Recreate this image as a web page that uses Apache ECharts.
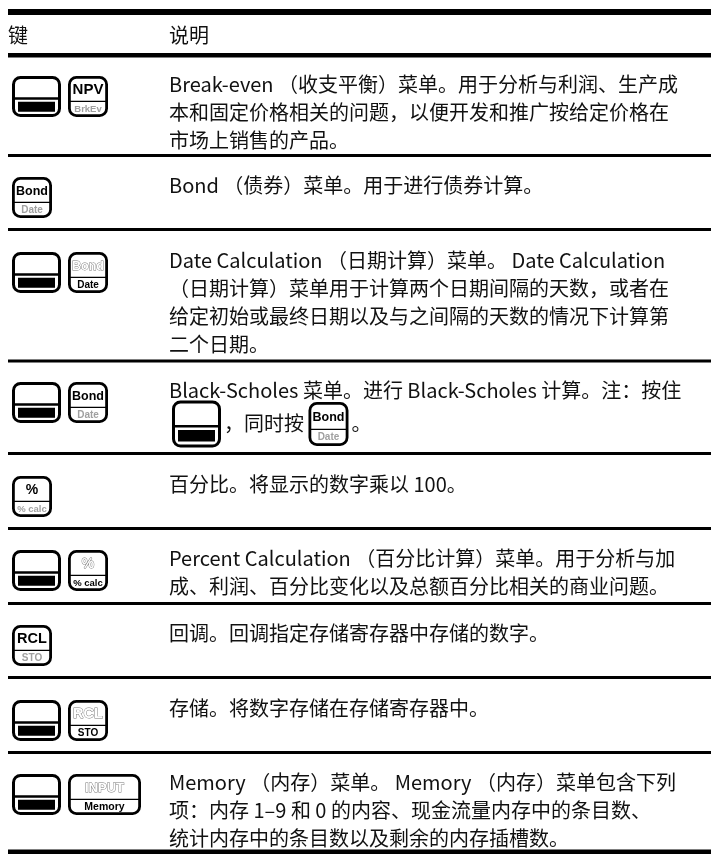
<!DOCTYPE html>
<html><head><meta charset="utf-8">
<script src="https://cdn.jsdelivr.net/npm/echarts@6/dist/echarts.min.js"></script>
<style>html,body{margin:0;padding:0;background:#fff}#c{width:711px;height:854px}</style>
</head><body><div id="c"></div>
<script>
// ---- data ----
const headers = ['键', '说明'];
// key specs: 'SHIFT' or 'top|bottom|activePart'
const rowKeys = [
  ['SHIFT', 'NPV|BrkEv|top'],
  ['Bond|Date|top'],
  ['SHIFT', 'Bond|Date|bottom'],
  ['SHIFT', 'Bond|Date|top'],
  ['%|% calc|top'],
  ['SHIFT', '%|% calc|bottom'],
  ['RCL|STO|top'],
  ['SHIFT', 'RCL|STO|bottom'],
  ['SHIFT', 'INPUT|Memory|bottom']
];
const rowText = [
  ['Break-even （收支平衡）菜单。用于分析与利润、生产成', '本和固定价格相关的问题，以便开发和推广按给定价格在', '市场上销售的产品。'],
  ['Bond （债券）菜单。用于进行债券计算。'],
  ['Date Calculation （日期计算）菜单。 Date Calculation', '（日期计算）菜单用于计算两个日期间隔的天数，或者在', '给定初始或最终日期以及与之间隔的天数的情况下计算第', '二个日期。'],
  ['Black-Scholes 菜单。进行 Black-Scholes 计算。注：按住', [{key: 'SHIFT'}, '，同时按 ', {key: 'Bond|Date|top'}, '。']],
  ['百分比。将显示的数字乘以 100。'],
  ['Percent Calculation （百分比计算）菜单。用于分析与加', '成、利润、百分比变化以及总额百分比相关的商业问题。'],
  ['回调。回调指定存储寄存器中存储的数字。'],
  ['存储。将数字存储在存储寄存器中。'],
  ['Memory （内存）菜单。 Memory （内存）菜单包含下列', '项：内存 1–9 和 0 的内容、现金流量内存中的条目数、', '统计内存中的条目数以及剩余的内存插槽数。']
];

// ---- layout ----
const FONT_FAMILY = '"Noto Sans CJK SC", "Noto Sans", sans-serif';
const FONT_SIZE = 20;
const KEY_FONT = '"Liberation Sans", Arial, sans-serif';
const TEXT_X = 169, KEY_X = 12, KEY2_X = 68, LEFT = 8, RIGHT = 711;
const rules = [[9, 6], [53, 4.5], [154, 3], [228, 3], [359.5, 3], [452, 3], [527, 3], [602, 3], [676, 3], [751, 3], [849.5, 5]];
const rowTops = [76, 177, 252, 382, 476, 550, 625, 700, 774];
const LINE_H = 28;

const measureCtx = document.createElement('canvas').getContext('2d');
measureCtx.font = FONT_SIZE + 'px ' + FONT_FAMILY;
function textW(s) { return measureCtx.measureText(s).width; }

const topSizes = {NPV: 15, Bond: 12.5, '%': 14, RCL: 14.5, INPUT: 13};
const botSizes = {BrkEv: 9.5, Date: 10, '% calc': 9.5, STO: 10, Memory: 10.5};

function keyEls(spec, x, y, w, h) {
  const els = [];
  if (spec === 'SHIFT') {
    els.push({type: 'rect', shape: {x: x + 1.5, y: y + 1.5, width: w - 3, height: h - 3, r: 7},
      style: {fill: '#fff', stroke: '#000', lineWidth: 3}});
    els.push({type: 'line', shape: {x1: x + 1.5, y1: y + h * 0.55, x2: x + w - 1.5, y2: y + h * 0.55},
      style: {stroke: '#000', lineWidth: 2.5}});
    els.push({type: 'rect', shape: {x: x + 6, y: y + h * 0.63, width: w - 12, height: h * 0.24},
      style: {fill: '#000'}});
    return els;
  }
  const [top, bottom, active] = spec.split('|');
  els.push({type: 'rect', shape: {x: x + 1.4, y: y + 1.4, width: w - 2.8, height: h - 2.8, r: 7},
    style: {fill: '#fff', stroke: '#000', lineWidth: 2.8}});
  els.push({type: 'line', shape: {x1: x + 2, y1: y + h * 0.62, x2: x + w - 2, y2: y + h * 0.62},
    style: {stroke: '#000', lineWidth: 1.3}});
  const topStyle = active === 'top'
    ? {fill: '#000'}
    : {fill: '#fff', stroke: '#777', lineWidth: 0.9};
  els.push({type: 'text', style: Object.assign({text: top, x: x + w / 2, y: y + h * 0.35,
    font: 'bold ' + (topSizes[top] || 13) + 'px ' + KEY_FONT, align: 'center', verticalAlign: 'middle'}, topStyle)});
  const botStyle = active === 'bottom' ? {fill: '#000'} : {fill: '#a0a0a0'};
  els.push({type: 'text', style: Object.assign({text: bottom, x: x + w / 2, y: y + h * 0.81,
    font: 'bold ' + (botSizes[bottom] || 9.5) + 'px ' + KEY_FONT, align: 'center', verticalAlign: 'middle'}, botStyle)});
  return els;
}

function textEl(s, x, y) {
  return {type: 'text', style: {text: s, x: x, y: y, font: FONT_SIZE + 'px ' + FONT_FAMILY,
    fill: '#111', align: 'left', verticalAlign: 'middle'}};
}

const elements = [];
rules.forEach(([y, h]) => {
  elements.push({type: 'rect', shape: {x: LEFT, y: y, width: RIGHT - LEFT, height: h}, style: {fill: '#000'}});
});
elements.push(textEl(headers[0], LEFT, 35));
elements.push(textEl(headers[1], TEXT_X, 35));

rowKeys.forEach((keys, i) => {
  const top = rowTops[i];
  keys.forEach((k, j) => {
    const x = j === 0 ? KEY_X : KEY2_X;
    const w = k === 'SHIFT' ? 49 : (k.startsWith('INPUT') ? 73 : 40);
    keyEls(k, x, top, w, 41).forEach(e => elements.push(e));
  });
  let ly = top + 8;
  rowText[i].forEach(line => {
    if (typeof line === 'string') {
      elements.push(textEl(line, TEXT_X, ly));
    } else {
      // line with inline keys
      const cy = ly + 5;
      let cx = TEXT_X + 3;
      line.forEach(seg => {
        if (typeof seg === 'string') {
          elements.push(textEl(seg, cx, cy));
          cx += textW(seg);
        } else {
          const w = seg.key === 'SHIFT' ? 49 : 40;
          const h = seg.key === 'SHIFT' ? 47 : 44;
          keyEls(seg.key, cx, cy - h / 2 + 1, w, h).forEach(e => elements.push(e));
          cx += w + 3;
        }
      });
    }
    ly += LINE_H;
  });
});

const chart = echarts.init(document.getElementById('c'), null, {renderer: 'canvas'});
chart.setOption({
  backgroundColor: '#fff',
  animation: false,
  graphic: {elements: elements}
});
</script>
</body></html>
